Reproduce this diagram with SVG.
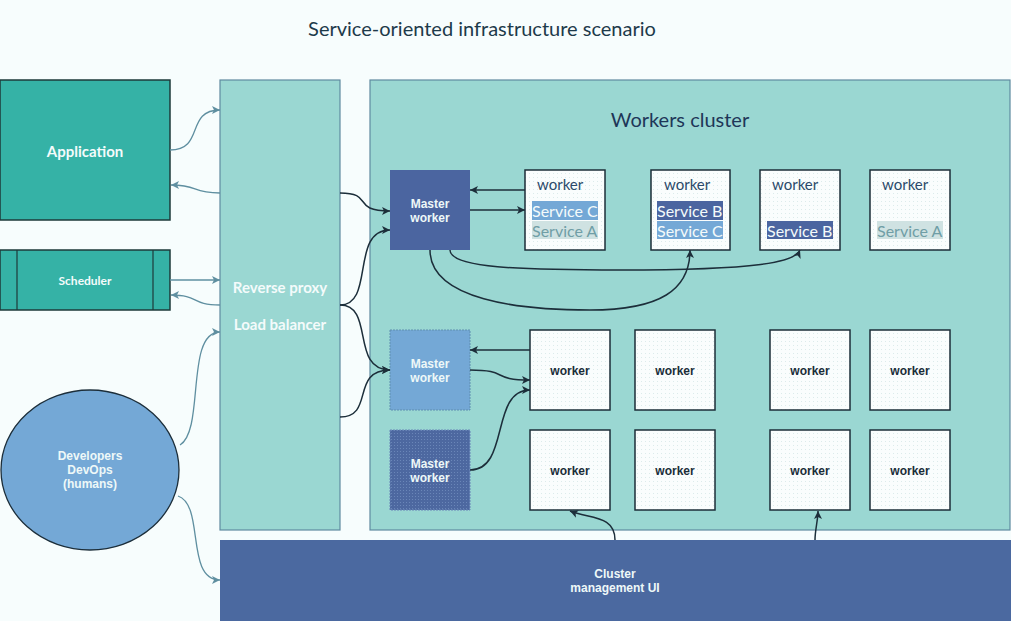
<svg xmlns="http://www.w3.org/2000/svg" width="1011" height="621" viewBox="0 0 1011 621">
<style>
.title{font-family:Lato,"Open Sans","Liberation Sans",sans-serif;font-size:20px;fill:#1d3a4a;text-anchor:middle}
.wc{font-family:Lato,"Open Sans","Liberation Sans",sans-serif;font-size:20px;fill:#1e3658;text-anchor:middle}
.wt{font-family:Lato,"Liberation Sans",sans-serif;font-size:15px;fill:#2a4a6a}
.svc{font-family:Lato,"Liberation Sans",sans-serif;font-size:16px}
.wk{font-family:"Liberation Sans",Arial,sans-serif;font-size:12px;font-weight:bold;fill:#1a2e3a;text-anchor:middle}
.wl{font-family:Lato,"Liberation Sans",sans-serif;font-weight:bold;fill:#f4fbfb;text-anchor:middle}
.ws{font-family:"Liberation Sans",Arial,sans-serif;font-weight:bold;fill:#eef8f8;text-anchor:middle;font-size:12px}
.box{fill:url(#dots);stroke:#1c2e38;stroke-width:1.5}
.dk{fill:none;stroke:#1c2e3a;stroke-width:1.5}
.lt{fill:none;stroke:#5f8fa0;stroke-width:1.3}
</style>
<defs>
<pattern id="dots" width="4" height="4" patternUnits="userSpaceOnUse">
<rect width="4" height="4" fill="#fafdfd"/>
<rect x="1" y="1" width="1" height="1" fill="#dcebeb"/>
</pattern>
<pattern id="mdots" width="3" height="3" patternUnits="userSpaceOnUse">
<rect width="3" height="3" fill="#4d68a0"/>
<rect x="1" y="1" width="1" height="1" fill="#6a86b8"/>
</pattern>
<marker id="ad" markerWidth="10" markerHeight="10" refX="9" refY="5" orient="auto" markerUnits="userSpaceOnUse">
<path d="M1,1 L9,5 L1,9 L3,5 Z" fill="#1c2e3a"/>
</marker>
<marker id="al" markerWidth="10" markerHeight="10" refX="9" refY="5" orient="auto" markerUnits="userSpaceOnUse">
<path d="M1,1 L9,5 L1,9 L3,5 Z" fill="#5f8fa0"/>
</marker>
</defs>
<rect width="1011" height="621" fill="#f7fdfd"/>
<text class="title" x="482" y="36">Service-oriented infrastructure scenario</text>

<g id="application">
<rect x="0" y="80" width="170" height="140" fill="#35b2a6" stroke="#1e3a3a" stroke-width="1.5"/>
<text class="wl" x="85" y="157" font-size="15">Application</text>
</g>
<g id="scheduler">
<rect x="0" y="250" width="170" height="60" fill="#35b2a6" stroke="#1e3a3a" stroke-width="1.5"/>
<line x1="17" y1="250" x2="17" y2="310" stroke="#1e3a3a" stroke-width="1.2"/>
<line x1="153" y1="250" x2="153" y2="310" stroke="#1e3a3a" stroke-width="1.2"/>
<text class="wl" x="85" y="285" font-size="12">Scheduler</text>
</g>
<g id="developers">
<ellipse cx="90" cy="470" rx="89" ry="80" fill="#74a8d6" stroke="#1c2e3a" stroke-width="1.3"/>
<text class="ws" x="90" y="460" font-size="11">Developers</text>
<text class="ws" x="90" y="474" font-size="11">DevOps</text>
<text class="ws" x="90" y="488" font-size="11">(humans)</text>
</g>
<g id="proxy">
<rect x="220" y="80" width="120" height="450" fill="#9ad7d2" stroke="#5f8aa0" stroke-width="1.2"/>
<text class="wl" x="280" y="293" font-size="15">Reverse proxy</text>
<text class="wl" x="280" y="330" font-size="15">Load balancer</text>
</g>
<g id="cluster">
<rect x="370" y="80" width="640" height="450" fill="#9ad7d2" stroke="#5f8aa0" stroke-width="1.2"/>
<text class="wc" x="680" y="127">Workers cluster</text>
</g>
<g id="ui">
<rect x="220" y="540" width="791" height="81" fill="#4b69a0"/>
<text class="ws" x="615" y="578">Cluster</text>
<text class="ws" x="615" y="592">management UI</text>
</g>

<g id="master1">
<rect x="390" y="170" width="80" height="80" fill="#4b65a0"/>
<text class="ws" x="430" y="208">Master</text>
<text class="ws" x="430" y="222">worker</text>
</g>
<g id="master2">
<rect x="390" y="330" width="80" height="80" fill="#74a8d6" stroke="#5f8fb0" stroke-width="1" stroke-dasharray="2,1"/>
<text class="ws" x="430" y="368">Master</text>
<text class="ws" x="430" y="382">worker</text>
</g>
<g id="master3">
<rect x="390" y="430" width="80" height="80" fill="url(#mdots)" stroke="#6a86b8" stroke-width="1" stroke-dasharray="2,1"/>
<text class="ws" x="430" y="468">Master</text>
<text class="ws" x="430" y="482">worker</text>
</g>

<g id="w1">
<rect class="box" x="525" y="170" width="80" height="80" stroke="#3e5a80"/>
<text class="wt" x="537" y="190">worker</text>
<rect x="532" y="201" width="66" height="19" fill="#74a8d6"/>
<text class="svc" x="532" y="217" fill="#f4fbfb">Service C</text>
<rect x="532" y="221" width="66" height="18" fill="#cfe2e2"/>
<text class="svc" x="532" y="237" fill="#6f9ea6">Service A</text>
</g>
<g id="w2">
<rect class="box" x="651" y="170" width="79" height="80"/>
<text class="wt" x="664" y="190">worker</text>
<rect x="657" y="201" width="66" height="19" fill="#4b65a0"/>
<text class="svc" x="657" y="217" fill="#f4fbfb">Service B</text>
<rect x="657" y="221" width="66" height="18" fill="#74a8d6"/>
<text class="svc" x="657" y="237" fill="#f4fbfb">Service C</text>
</g>
<g id="w3">
<rect class="box" x="760" y="170" width="80" height="80"/>
<text class="wt" x="772" y="190">worker</text>
<rect x="767" y="221" width="66" height="18" fill="#4b65a0"/>
<text class="svc" x="767" y="237" fill="#f4fbfb">Service B</text>
</g>
<g id="w4">
<rect class="box" x="870" y="170" width="80" height="80"/>
<text class="wt" x="882" y="190">worker</text>
<rect x="877" y="221" width="66" height="18" fill="#cfe2e2"/>
<text class="svc" x="877" y="237" fill="#6f9ea6">Service A</text>
</g>

<g id="w5"><rect class="box" x="530" y="330" width="80" height="80"/><text class="wk" x="570" y="375">worker</text></g>
<g id="w6"><rect class="box" x="635" y="330" width="80" height="80"/><text class="wk" x="675" y="375">worker</text></g>
<g id="w7"><rect class="box" x="770" y="330" width="80" height="80"/><text class="wk" x="810" y="375">worker</text></g>
<g id="w8"><rect class="box" x="870" y="330" width="80" height="80"/><text class="wk" x="910" y="375">worker</text></g>
<g id="w9"><rect class="box" x="530" y="430" width="80" height="80"/><text class="wk" x="570" y="475">worker</text></g>
<g id="w10"><rect class="box" x="635" y="430" width="80" height="80"/><text class="wk" x="675" y="475">worker</text></g>
<g id="w11"><rect class="box" x="770" y="430" width="80" height="80"/><text class="wk" x="810" y="475">worker</text></g>
<g id="w12"><rect class="box" x="870" y="430" width="80" height="80"/><text class="wk" x="910" y="475">worker</text></g>

<g id="connectors">
<path class="lt" marker-end="url(#al)" d="M170,150 C205,150 185,110 220,110"/>
<path class="lt" marker-end="url(#al)" d="M220,193 C190,193 200,185 171,185"/>
<path class="lt" marker-end="url(#al)" d="M170,280 L220,280"/>
<path class="lt" marker-end="url(#al)" d="M220,305 C190,305 200,295 171,295"/>
<path class="lt" marker-end="url(#al)" d="M180,445 C205,430 185,332 220,332"/>
<path class="lt" marker-end="url(#al)" d="M178,496 C205,505 185,580 220,580"/>

<path class="dk" marker-end="url(#ad)" d="M340,193 C375,193 350,211 390,211"/>
<path class="dk" marker-end="url(#ad)" d="M340,305 C375,305 350,230 390,230"/>
<path class="dk" marker-end="url(#ad)" d="M340,305 C375,305 350,370 390,370"/>
<path class="dk" marker-end="url(#ad)" d="M340,417 C375,417 350,370 390,370"/>

<path class="dk" marker-end="url(#ad)" d="M525,190 L470,190"/>
<path class="dk" marker-end="url(#ad)" d="M470,210 L525,210"/>
<path class="dk" marker-end="url(#ad)" d="M430,250 C430,300 520,310 590,310 C660,310 690,290 690,250"/>
<path class="dk" marker-end="url(#ad)" d="M450,250 C450,268 520,270 620,270 C760,270 795,262 800,250"/>

<path class="dk" marker-end="url(#ad)" d="M530,350 L470,350"/>
<path class="dk" marker-end="url(#ad)" d="M470,370 C510,370 490,380 530,380"/>
<path class="dk" marker-end="url(#ad)" d="M470,470 C510,470 490,390 530,390"/>

<path class="dk" marker-end="url(#ad)" d="M615,540 C615,515 590,519 570,511"/>
<path class="dk" marker-end="url(#ad)" d="M815,540 C815,530 818,520 818,511"/>
</g>
</svg>
